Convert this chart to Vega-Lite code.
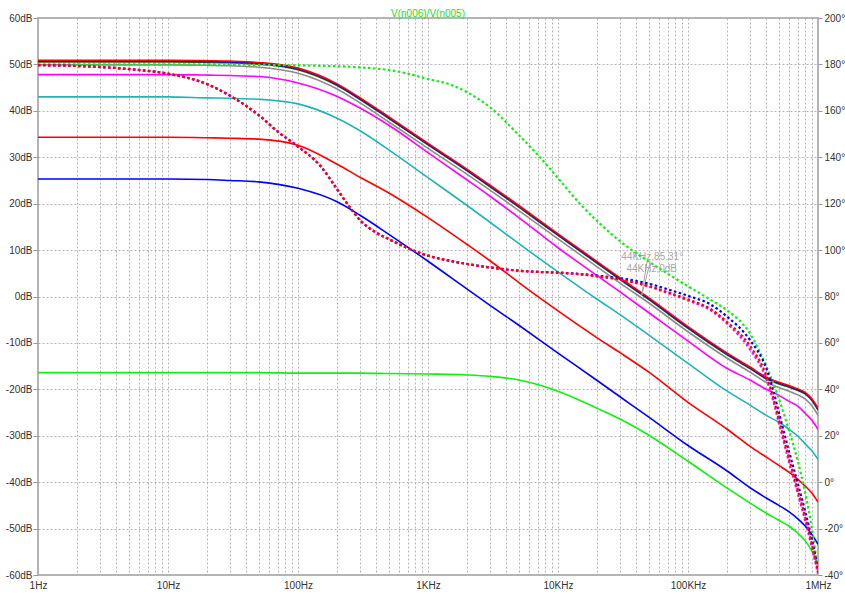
{
"$schema": "https://vega.github.io/schema/vega-lite/v6.json",
"width": 780, "height": 557,
"autosize": {"type": "none"},
"padding": {"left": 38, "top": 18, "right": 27, "bottom": 20},
"background": "white",
"title": {"text": "V(n006)/V(n005)", "color": "#22dd22", "fontSize": 10, "fontWeight": "normal", "font": "Liberation Sans", "offset": -6, "anchor": "middle"},
"config": {
  "view": {"stroke": "#b4b4b4", "strokeWidth": 2},
  "axis": {"labelFont": "Liberation Sans", "labelFontSize": 10, "labelColor": "#333333", "tickColor": "#999999", "domain": false, "title": null}
},
"datasets": {
"mag": [
{"s":"s1","f":1,"v":-16.4},{"s":"s1","f":10,"v":-16.4},{"s":"s1","f":20,"v":-16.4},{"s":"s1","f":30,"v":-16.4},{"s":"s1","f":50,"v":-16.4},{"s":"s1","f":100,"v":-16.5},{"s":"s1","f":200,"v":-16.5},{"s":"s1","f":300,"v":-16.5},{"s":"s1","f":500,"v":-16.6},{"s":"s1","f":1000,"v":-16.7},{"s":"s1","f":2000,"v":-16.9},{"s":"s1","f":3000,"v":-17.2},{"s":"s1","f":5000,"v":-18.0},{"s":"s1","f":10000,"v":-20.4},{"s":"s1","f":20000,"v":-24.1},{"s":"s1","f":30000,"v":-26.4},{"s":"s1","f":50000,"v":-29.9},{"s":"s1","f":100000,"v":-35.5},{"s":"s1","f":200000,"v":-41.3},{"s":"s1","f":300000,"v":-44.5},{"s":"s1","f":400000,"v":-46.7},{"s":"s1","f":500000,"v":-48.2},{"s":"s1","f":600000,"v":-49.5},{"s":"s1","f":700000,"v":-51.0},{"s":"s1","f":800000,"v":-52.7},{"s":"s1","f":900000,"v":-54.9},{"s":"s1","f":1000000,"v":-57.7},
{"s":"s2","f":1,"v":25.3},{"s":"s2","f":10,"v":25.3},{"s":"s2","f":20,"v":25.2},{"s":"s2","f":30,"v":25.0},{"s":"s2","f":50,"v":24.7},{"s":"s2","f":100,"v":23.3},{"s":"s2","f":200,"v":20.4},{"s":"s2","f":300,"v":17.5},{"s":"s2","f":500,"v":13.4},{"s":"s2","f":1000,"v":7.6},{"s":"s2","f":2000,"v":1.6},{"s":"s2","f":3000,"v":-1.9},{"s":"s2","f":5000,"v":-6.2},{"s":"s2","f":10000,"v":-12.2},{"s":"s2","f":20000,"v":-18.1},{"s":"s2","f":30000,"v":-21.6},{"s":"s2","f":50000,"v":-26.0},{"s":"s2","f":100000,"v":-32.1},{"s":"s2","f":200000,"v":-37.6},{"s":"s2","f":300000,"v":-41.2},{"s":"s2","f":400000,"v":-43.4},{"s":"s2","f":500000,"v":-45.0},{"s":"s2","f":600000,"v":-46.4},{"s":"s2","f":700000,"v":-47.9},{"s":"s2","f":800000,"v":-49.5},{"s":"s2","f":900000,"v":-51.3},{"s":"s2","f":1000000,"v":-53.4},
{"s":"s3","f":1,"v":34.3},{"s":"s3","f":10,"v":34.3},{"s":"s3","f":20,"v":34.2},{"s":"s3","f":30,"v":34.1},{"s":"s3","f":50,"v":33.9},{"s":"s3","f":100,"v":32.6},{"s":"s3","f":200,"v":28.5},{"s":"s3","f":300,"v":25.7},{"s":"s3","f":500,"v":22.3},{"s":"s3","f":1000,"v":17.0},{"s":"s3","f":2000,"v":11.2},{"s":"s3","f":3000,"v":7.7},{"s":"s3","f":5000,"v":3.0},{"s":"s3","f":10000,"v":-3.1},{"s":"s3","f":20000,"v":-8.9},{"s":"s3","f":30000,"v":-12.1},{"s":"s3","f":50000,"v":-16.3},{"s":"s3","f":100000,"v":-22.8},{"s":"s3","f":200000,"v":-28.6},{"s":"s3","f":300000,"v":-32.3},{"s":"s3","f":400000,"v":-34.6},{"s":"s3","f":500000,"v":-36.4},{"s":"s3","f":600000,"v":-37.9},{"s":"s3","f":700000,"v":-39.4},{"s":"s3","f":800000,"v":-40.9},{"s":"s3","f":900000,"v":-42.4},{"s":"s3","f":1000000,"v":-44.3},
{"s":"s4","f":1,"v":43.0},{"s":"s4","f":10,"v":43.0},{"s":"s4","f":20,"v":42.8},{"s":"s4","f":30,"v":42.7},{"s":"s4","f":50,"v":42.5},{"s":"s4","f":100,"v":41.5},{"s":"s4","f":200,"v":38.4},{"s":"s4","f":300,"v":35.7},{"s":"s4","f":500,"v":31.6},{"s":"s4","f":1000,"v":25.6},{"s":"s4","f":2000,"v":19.6},{"s":"s4","f":3000,"v":16.0},{"s":"s4","f":5000,"v":11.4},{"s":"s4","f":10000,"v":5.3},{"s":"s4","f":20000,"v":-0.6},{"s":"s4","f":30000,"v":-3.9},{"s":"s4","f":50000,"v":-8.3},{"s":"s4","f":100000,"v":-14.4},{"s":"s4","f":200000,"v":-20.4},{"s":"s4","f":300000,"v":-23.4},{"s":"s4","f":400000,"v":-25.6},{"s":"s4","f":500000,"v":-27.1},{"s":"s4","f":600000,"v":-28.6},{"s":"s4","f":700000,"v":-30.1},{"s":"s4","f":800000,"v":-31.8},{"s":"s4","f":900000,"v":-33.3},{"s":"s4","f":1000000,"v":-35.1},
{"s":"s5","f":1,"v":47.8},{"s":"s5","f":10,"v":47.8},{"s":"s5","f":20,"v":47.7},{"s":"s5","f":30,"v":47.6},{"s":"s5","f":50,"v":47.4},{"s":"s5","f":100,"v":46.0},{"s":"s5","f":200,"v":43.1},{"s":"s5","f":300,"v":40.6},{"s":"s5","f":500,"v":36.9},{"s":"s5","f":1000,"v":31.0},{"s":"s5","f":2000,"v":25.1},{"s":"s5","f":3000,"v":21.6},{"s":"s5","f":5000,"v":17.0},{"s":"s5","f":10000,"v":10.5},{"s":"s5","f":20000,"v":4.5},{"s":"s5","f":30000,"v":1.0},{"s":"s5","f":50000,"v":-3.5},{"s":"s5","f":100000,"v":-9.6},{"s":"s5","f":200000,"v":-15.5},{"s":"s5","f":300000,"v":-18.0},{"s":"s5","f":400000,"v":-20.0},{"s":"s5","f":500000,"v":-21.3},{"s":"s5","f":600000,"v":-22.6},{"s":"s5","f":700000,"v":-23.6},{"s":"s5","f":800000,"v":-25.2},{"s":"s5","f":900000,"v":-26.7},{"s":"s5","f":1000000,"v":-28.6},
{"s":"s6","f":1,"v":49.9},{"s":"s6","f":10,"v":49.9},{"s":"s6","f":20,"v":49.8},{"s":"s6","f":30,"v":49.7},{"s":"s6","f":50,"v":49.4},{"s":"s6","f":100,"v":48.1},{"s":"s6","f":200,"v":44.7},{"s":"s6","f":300,"v":41.7},{"s":"s6","f":500,"v":37.6},{"s":"s6","f":1000,"v":31.9},{"s":"s6","f":2000,"v":26.3},{"s":"s6","f":3000,"v":22.9},{"s":"s6","f":5000,"v":18.5},{"s":"s6","f":10000,"v":12.4},{"s":"s6","f":20000,"v":6.4},{"s":"s6","f":30000,"v":2.9},{"s":"s6","f":50000,"v":-1.4},{"s":"s6","f":100000,"v":-7.6},{"s":"s6","f":200000,"v":-13.3},{"s":"s6","f":300000,"v":-16.3},{"s":"s6","f":400000,"v":-18.5},{"s":"s6","f":500000,"v":-19.6},{"s":"s6","f":600000,"v":-20.4},{"s":"s6","f":700000,"v":-21.2},{"s":"s6","f":800000,"v":-22.1},{"s":"s6","f":900000,"v":-23.6},{"s":"s6","f":1000000,"v":-25.6},
{"s":"s7","f":1,"v":50.55},{"s":"s7","f":10,"v":50.55},{"s":"s7","f":20,"v":50.45},{"s":"s7","f":30,"v":50.35},{"s":"s7","f":50,"v":50.05},{"s":"s7","f":100,"v":48.85},{"s":"s7","f":200,"v":45.45},{"s":"s7","f":300,"v":42.45},{"s":"s7","f":500,"v":38.35},{"s":"s7","f":1000,"v":32.65},{"s":"s7","f":2000,"v":27.05},{"s":"s7","f":3000,"v":23.65},{"s":"s7","f":5000,"v":19.25},{"s":"s7","f":10000,"v":13.15},{"s":"s7","f":20000,"v":7.15},{"s":"s7","f":30000,"v":3.65},{"s":"s7","f":50000,"v":-0.65},{"s":"s7","f":100000,"v":-6.85},{"s":"s7","f":200000,"v":-12.55},{"s":"s7","f":300000,"v":-15.55},{"s":"s7","f":400000,"v":-17.75},{"s":"s7","f":500000,"v":-18.85},{"s":"s7","f":600000,"v":-19.55},{"s":"s7","f":700000,"v":-20.25},{"s":"s7","f":800000,"v":-21.05},{"s":"s7","f":900000,"v":-22.45},{"s":"s7","f":1000000,"v":-24.45},
{"s":"s8","f":1,"v":50.75},{"s":"s8","f":10,"v":50.75},{"s":"s8","f":20,"v":50.65},{"s":"s8","f":30,"v":50.55},{"s":"s8","f":50,"v":50.25},{"s":"s8","f":100,"v":49.05},{"s":"s8","f":200,"v":45.65},{"s":"s8","f":300,"v":42.65},{"s":"s8","f":500,"v":38.55},{"s":"s8","f":1000,"v":32.85},{"s":"s8","f":2000,"v":27.25},{"s":"s8","f":3000,"v":23.85},{"s":"s8","f":5000,"v":19.45},{"s":"s8","f":10000,"v":13.35},{"s":"s8","f":20000,"v":7.35},{"s":"s8","f":30000,"v":3.85},{"s":"s8","f":50000,"v":-0.45},{"s":"s8","f":100000,"v":-6.65},{"s":"s8","f":200000,"v":-12.35},{"s":"s8","f":300000,"v":-15.35},{"s":"s8","f":400000,"v":-17.55},{"s":"s8","f":500000,"v":-18.65},{"s":"s8","f":600000,"v":-19.35},{"s":"s8","f":700000,"v":-20.05},{"s":"s8","f":800000,"v":-20.85},{"s":"s8","f":900000,"v":-22.25},{"s":"s8","f":1000000,"v":-24.25},
{"s":"s9","f":1,"v":50.9},{"s":"s9","f":10,"v":50.9},{"s":"s9","f":20,"v":50.8},{"s":"s9","f":30,"v":50.7},{"s":"s9","f":50,"v":50.4},{"s":"s9","f":100,"v":49.2},{"s":"s9","f":200,"v":45.8},{"s":"s9","f":300,"v":42.8},{"s":"s9","f":500,"v":38.7},{"s":"s9","f":1000,"v":33.0},{"s":"s9","f":2000,"v":27.4},{"s":"s9","f":3000,"v":24.0},{"s":"s9","f":5000,"v":19.6},{"s":"s9","f":10000,"v":13.5},{"s":"s9","f":20000,"v":7.5},{"s":"s9","f":30000,"v":4.0},{"s":"s9","f":50000,"v":-0.3},{"s":"s9","f":100000,"v":-6.5},{"s":"s9","f":200000,"v":-12.2},{"s":"s9","f":300000,"v":-15.2},{"s":"s9","f":400000,"v":-17.4},{"s":"s9","f":500000,"v":-18.5},{"s":"s9","f":600000,"v":-19.2},{"s":"s9","f":700000,"v":-19.9},{"s":"s9","f":800000,"v":-20.7},{"s":"s9","f":900000,"v":-22.1},{"s":"s9","f":1000000,"v":-24.1}
],
"ph": [
{"s":"p1","f":1,"v":180},{"s":"p1","f":2,"v":180},{"s":"p1","f":5,"v":180},{"s":"p1","f":10,"v":180},{"s":"p1","f":20,"v":180},{"s":"p1","f":30,"v":179.9},{"s":"p1","f":50,"v":179.8},{"s":"p1","f":70,"v":179.7},{"s":"p1","f":100,"v":179.6},{"s":"p1","f":150,"v":179.4},{"s":"p1","f":200,"v":179.2},{"s":"p1","f":250,"v":179.0},{"s":"p1","f":300,"v":178.7},{"s":"p1","f":400,"v":178.2},{"s":"p1","f":500,"v":177.6},{"s":"p1","f":700,"v":176.0},{"s":"p1","f":1000,"v":173.7},{"s":"p1","f":1500,"v":171.2},{"s":"p1","f":2000,"v":168.0},{"s":"p1","f":3000,"v":161.5},{"s":"p1","f":5000,"v":149.5},{"s":"p1","f":7000,"v":141.0},{"s":"p1","f":10000,"v":131.0},{"s":"p1","f":15000,"v":119.5},{"s":"p1","f":20000,"v":112.5},{"s":"p1","f":30000,"v":103.8},{"s":"p1","f":50000,"v":95.0},{"s":"p1","f":70000,"v":89.8},{"s":"p1","f":100000,"v":84.4},{"s":"p1","f":150000,"v":78.5},{"s":"p1","f":200000,"v":74.0},{"s":"p1","f":300000,"v":64.0},{"s":"p1","f":400000,"v":50.0},{"s":"p1","f":450000,"v":43.0},{"s":"p1","f":500000,"v":36.0},{"s":"p1","f":600000,"v":22.0},{"s":"p1","f":700000,"v":9.0},{"s":"p1","f":800000,"v":-5.2},{"s":"p1","f":900000,"v":-20.3},{"s":"p1","f":1000000,"v":-38.8},
{"s":"p2","f":1,"v":179.7},{"s":"p2","f":2,"v":179.3},{"s":"p2","f":5,"v":178.0},{"s":"p2","f":10,"v":176.0},{"s":"p2","f":20,"v":171.5},{"s":"p2","f":30,"v":166.5},{"s":"p2","f":50,"v":158.1},{"s":"p2","f":70,"v":151.0},{"s":"p2","f":100,"v":144.6},{"s":"p2","f":150,"v":136.0},{"s":"p2","f":200,"v":126.2},{"s":"p2","f":250,"v":118.5},{"s":"p2","f":300,"v":112.9},{"s":"p2","f":400,"v":107.5},{"s":"p2","f":500,"v":104.7},{"s":"p2","f":700,"v":100.8},{"s":"p2","f":1000,"v":97.6},{"s":"p2","f":1500,"v":95.3},{"s":"p2","f":2000,"v":94.0},{"s":"p2","f":3000,"v":92.5},{"s":"p2","f":5000,"v":91.1},{"s":"p2","f":7000,"v":90.6},{"s":"p2","f":10000,"v":90.3},{"s":"p2","f":15000,"v":89.7},{"s":"p2","f":20000,"v":89.0},{"s":"p2","f":30000,"v":87.9},{"s":"p2","f":50000,"v":85.5},{"s":"p2","f":70000,"v":83.1},{"s":"p2","f":100000,"v":80.3},{"s":"p2","f":150000,"v":76.5},{"s":"p2","f":200000,"v":71.3},{"s":"p2","f":300000,"v":61.2},{"s":"p2","f":400000,"v":49.0},{"s":"p2","f":450000,"v":40.0},{"s":"p2","f":500000,"v":30.0},{"s":"p2","f":600000,"v":13.0},{"s":"p2","f":700000,"v":-0.7},{"s":"p2","f":800000,"v":-13.0},{"s":"p2","f":900000,"v":-25.0},{"s":"p2","f":1000000,"v":-37.5},
{"s":"p5","f":1,"v":179.7},{"s":"p5","f":2,"v":179.3},{"s":"p5","f":5,"v":178.0},{"s":"p5","f":10,"v":176.0},{"s":"p5","f":20,"v":171.5},{"s":"p5","f":30,"v":166.5},{"s":"p5","f":50,"v":158.1},{"s":"p5","f":70,"v":151.0},{"s":"p5","f":100,"v":144.6},{"s":"p5","f":150,"v":136.0},{"s":"p5","f":200,"v":126.2},{"s":"p5","f":250,"v":118.5},{"s":"p5","f":300,"v":112.9},{"s":"p5","f":400,"v":107.5},{"s":"p5","f":500,"v":104.7},{"s":"p5","f":700,"v":100.8},{"s":"p5","f":1000,"v":97.6},{"s":"p5","f":1500,"v":95.3},{"s":"p5","f":2000,"v":94.0},{"s":"p5","f":3000,"v":92.5},{"s":"p5","f":5000,"v":91.1},{"s":"p5","f":7000,"v":90.6},{"s":"p5","f":10000,"v":90.3},{"s":"p5","f":15000,"v":89.5},{"s":"p5","f":20000,"v":88.7},{"s":"p5","f":30000,"v":87.3},{"s":"p5","f":50000,"v":84.3},{"s":"p5","f":70000,"v":81.5},{"s":"p5","f":100000,"v":78.3},{"s":"p5","f":150000,"v":74.0},{"s":"p5","f":200000,"v":68.3},{"s":"p5","f":300000,"v":57.2},{"s":"p5","f":400000,"v":44.5},{"s":"p5","f":450000,"v":35.5},{"s":"p5","f":500000,"v":25.5},{"s":"p5","f":600000,"v":8.5},{"s":"p5","f":700000,"v":-5.0},{"s":"p5","f":800000,"v":-17.0},{"s":"p5","f":900000,"v":-28.5},{"s":"p5","f":1000000,"v":-39.5},
{"s":"p9","f":1,"v":179.7},{"s":"p9","f":2,"v":179.3},{"s":"p9","f":5,"v":178.0},{"s":"p9","f":10,"v":176.0},{"s":"p9","f":20,"v":171.5},{"s":"p9","f":30,"v":166.5},{"s":"p9","f":50,"v":158.1},{"s":"p9","f":70,"v":151.0},{"s":"p9","f":100,"v":144.6},{"s":"p9","f":150,"v":136.0},{"s":"p9","f":200,"v":126.2},{"s":"p9","f":250,"v":118.5},{"s":"p9","f":300,"v":112.9},{"s":"p9","f":400,"v":107.5},{"s":"p9","f":500,"v":104.7},{"s":"p9","f":700,"v":100.8},{"s":"p9","f":1000,"v":97.6},{"s":"p9","f":1500,"v":95.3},{"s":"p9","f":2000,"v":94.0},{"s":"p9","f":3000,"v":92.5},{"s":"p9","f":5000,"v":91.1},{"s":"p9","f":7000,"v":90.6},{"s":"p9","f":10000,"v":90.3},{"s":"p9","f":15000,"v":89.5},{"s":"p9","f":20000,"v":88.7},{"s":"p9","f":30000,"v":87.3},{"s":"p9","f":50000,"v":84.5},{"s":"p9","f":70000,"v":81.8},{"s":"p9","f":100000,"v":78.8},{"s":"p9","f":150000,"v":74.5},{"s":"p9","f":200000,"v":69.0},{"s":"p9","f":300000,"v":58.7},{"s":"p9","f":400000,"v":46.0},{"s":"p9","f":450000,"v":37.0},{"s":"p9","f":500000,"v":27.0},{"s":"p9","f":600000,"v":10.0},{"s":"p9","f":700000,"v":-3.5},{"s":"p9","f":800000,"v":-15.5},{"s":"p9","f":900000,"v":-27.0},{"s":"p9","f":1000000,"v":-38.8}
],
"annt": [
{"f": 30700, "v": 8.6, "t": "44KHz,85.31°"},
{"f": 33600, "v": 5.9, "t": "44KHz,0dB"}
],
"annr": [
{"f": 51400, "f2": 44000, "v": 7.6, "v2": 0.2},
{"f": 48500, "f2": 44000, "v": 7.6, "v2": 0.2}
]
},
"layer": [
{"layer": [
 {"data": {"name": "mag"},
  "mark": {"type": "line", "strokeWidth": 1.6, "interpolate": "monotone", "clip": true},
  "encoding": {
   "x": {"field": "f", "type": "quantitative",
         "scale": {"type": "log", "domain": [1, 1000000], "nice": false},
         "axis": {"values": [1,2,3,4,5,6,7,8,9,10,20,30,40,50,60,70,80,90,100,200,300,400,500,600,700,800,900,1000,2000,3000,4000,5000,6000,7000,8000,9000,10000,20000,30000,40000,50000,60000,70000,80000,90000,100000,200000,300000,400000,500000,600000,700000,800000,900000,1000000],
                  "grid": true, "gridDash": [2, 2], "gridColor": "#b4b4b4", "gridWidth": 1,
                  "tickSize": 0, "labelPadding": 5, "labelOverlap": false, "labelFlush": false, "labelBound": false,
                  "labelExpr": "datum.value==1?'1Hz':datum.value==10?'10Hz':datum.value==100?'100Hz':datum.value==1000?'1KHz':datum.value==10000?'10KHz':datum.value==100000?'100KHz':datum.value==1000000?'1MHz':''"}},
   "y": {"field": "v", "type": "quantitative",
         "scale": {"domain": [-60, 60], "nice": false, "zero": false},
         "axis": {"orient": "left", "values": [-60,-50,-40,-30,-20,-10,0,10,20,30,40,50,60],
                  "grid": true, "gridDash": [2, 2], "gridColor": "#b4b4b4", "gridWidth": 1,
                  "tickSize": 5, "labelPadding": 1, "labelExpr": "datum.value + 'dB'"}},
   "color": {"field": "s", "type": "nominal",
             "scale": {"domain": ["s1","s2","s3","s4","s5","s6","s7","s8","s9","p1","p2","p5","p9"],
                       "range": ["#11ee11","#0000ff","#ff0000","#1fb5b5","#ff00ff","#8c8c8c","#1f5f1f","#0000ff","#ff0000","#11ee11","#0000ff","#ff00ff","#ff0000"]},
             "legend": null}
  }},
 {"data": {"name": "annr"},
  "mark": {"type": "rule", "color": "#a8a8a8", "strokeWidth": 1},
  "encoding": {
   "x": {"field": "f", "type": "quantitative"},
   "x2": {"field": "f2"},
   "y": {"field": "v", "type": "quantitative"},
   "y2": {"field": "v2"}
  }},
 {"data": {"name": "annt"},
  "mark": {"type": "text", "align": "left", "baseline": "middle", "color": "#a8a8a8", "fontSize": 10, "font": "Liberation Sans"},
  "encoding": {
   "x": {"field": "f", "type": "quantitative"},
   "y": {"field": "v", "type": "quantitative"},
   "text": {"field": "t"}
  }}
]},
{"data": {"name": "ph"},
 "mark": {"type": "line", "strokeWidth": 2.2, "strokeDash": [2.5, 2.5], "interpolate": "monotone", "clip": true},
 "encoding": {
  "x": {"field": "f", "type": "quantitative"},
  "y": {"field": "v", "type": "quantitative",
        "scale": {"domain": [-40, 200], "nice": false, "zero": false},
        "axis": {"orient": "right", "values": [-40,-20,0,20,40,60,80,100,120,140,160,180,200],
                 "grid": false, "tickSize": 4, "labelPadding": 2, "labelExpr": "datum.value + '°'"}},
  "color": {"field": "s", "type": "nominal", "legend": null}
 }}
],
"resolve": {"scale": {"y": "independent"}}
}
